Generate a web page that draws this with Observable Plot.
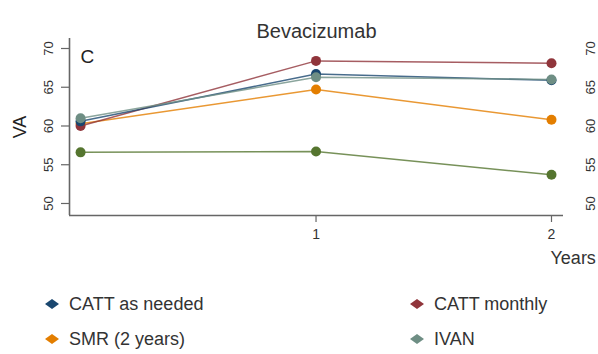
<!DOCTYPE html>
<html>
<head>
<meta charset="utf-8">
<script src="https://cdn.jsdelivr.net/npm/d3@7"></script>
<script src="https://cdn.jsdelivr.net/npm/@observablehq/plot@0.6"></script>
<style>
  html, body { margin: 0; padding: 0; background: #fff; }
  body { width: 598px; height: 354px; overflow: hidden; font-family: "Liberation Sans", Arial, sans-serif; color: #333; }
  #wrap { position: relative; width: 598px; height: 354px; }
  #legend { position: absolute; left: 0; top: 280px; width: 598px; height: 74px; }
  .item { position: absolute; display: flex; align-items: center; font-size: 18px; color: #333; white-space: nowrap; }
  .item svg { margin-right: 10px; }
</style>
</head>
<body>
<div id="wrap"><div id="chart"></div><div id="legend"></div></div>
<script>
const years = [0, 1, 2];
const seriesNames = ["Other", "SMR (2 years)", "CATT monthly", "CATT as needed", "IVAN"];
const otherVA = [56.6, 56.7, 53.7];
const smrVA = [60.3, 64.7, 60.8];
const cattMonthlyVA = [60.0, 68.4, 68.1];
const cattNeededVA = [60.6, 66.7, 65.9];
const ivanVA = [61.0, 66.3, 66.0];
const seriesColors = ["#55752f", "#e37e00", "#90353b", "#1a476f", "#6e8e84"];
const legendNames = ["CATT as needed", "CATT monthly", "SMR (2 years)", "IVAN"];
const yTicks = [50, 55, 60, 65, 70];
const xTicks = [1, 2];
const xDomain = [-0.047, 2.051];
const yDomain = [48.45, 71.29];
const title = "Bevacizumab";
const panel = "C";
const yLabel = "VA";
const xLabel = "Years";

const values = [otherVA, smrVA, cattMonthlyVA, cattNeededVA, ivanVA];
const data = [];
seriesNames.forEach((s, i) => years.forEach((yr, j) => data.push({series: s, year: yr, va: values[i][j]})));

const font = "Liberation Sans, Arial, sans-serif";
const chart = Plot.plot({
  width: 598,
  height: 280,
  marginLeft: 69,
  marginRight: 35,
  marginTop: 38,
  marginBottom: 65,
  style: {fontFamily: font, color: "#333", background: "#fff", overflow: "visible"},
  x: {domain: xDomain, axis: null},
  y: {domain: yDomain, axis: null},
  color: {domain: seriesNames, range: seriesColors},
  marks: [
    Plot.ruleX([xDomain[0]], {stroke: "#666", strokeWidth: 1.6}),
    Plot.ruleY([yDomain[0]], {stroke: "#666", strokeWidth: 1.6}),
    Plot.axisY({anchor: "left", ticks: yTicks, tickSize: 8, tickFormat: () => "", label: null, stroke: "#666", strokeWidth: 1.2}),
    Plot.text(yTicks, {y: d => d, frameAnchor: "left", textAnchor: "middle", dx: -21, rotate: -90, text: d => String(d), fontSize: 13, fill: "#333"}),
    Plot.text(yTicks, {y: d => d, frameAnchor: "right", textAnchor: "middle", dx: 27, rotate: -90, text: d => String(d), fontSize: 13, fill: "#333"}),
    Plot.axisX({anchor: "bottom", ticks: xTicks, tickSize: 7, tickPadding: 7, fontSize: 14, label: null, stroke: "#666", strokeWidth: 1.2, tickFormat: d => String(d)}),
    Plot.line(data, {x: "year", y: "va", z: "series", stroke: "series", strokeWidth: 1.5, strokeOpacity: 0.8}),
    Plot.dot(data, {x: "year", y: "va", fill: "series", r: 5}),
    Plot.text([title], {frameAnchor: "top", dy: -15, text: d => d, fontSize: 20, fill: "#333"}),
    Plot.text([panel], {frameAnchor: "top-left", dx: 11, dy: 11, textAnchor: "start", text: d => d, fontSize: 19, fill: "#222"}),
    Plot.text([yLabel], {frameAnchor: "left", textAnchor: "middle", dx: -49, rotate: -90, text: d => d, fontSize: 18, fill: "#222"}),
    Plot.text([xLabel], {frameAnchor: "bottom-right", dx: -13, dy: 48, textAnchor: "start", text: d => d, fontSize: 18, fill: "#333"})
  ]
});
document.getElementById("chart").appendChild(chart);

// legend
const color = chart.scale("color");
const legend = document.getElementById("legend");
const pos = [[45, 24], [410, 24], [45, 59], [410, 59]];
legendNames.forEach((name, i) => {
  const div = document.createElement("div");
  div.className = "item";
  div.style.left = pos[i][0] + "px";
  div.style.top = (pos[i][1] - 11) + "px";
  const c = color.apply(name);
  div.innerHTML = `<svg width="14" height="22"><path d="M0,11 L7,6 L14,11 L7,16 Z" fill="${c}"/></svg><span>${name}</span>`;
  legend.appendChild(div);
});
</script>
</body>
</html>
